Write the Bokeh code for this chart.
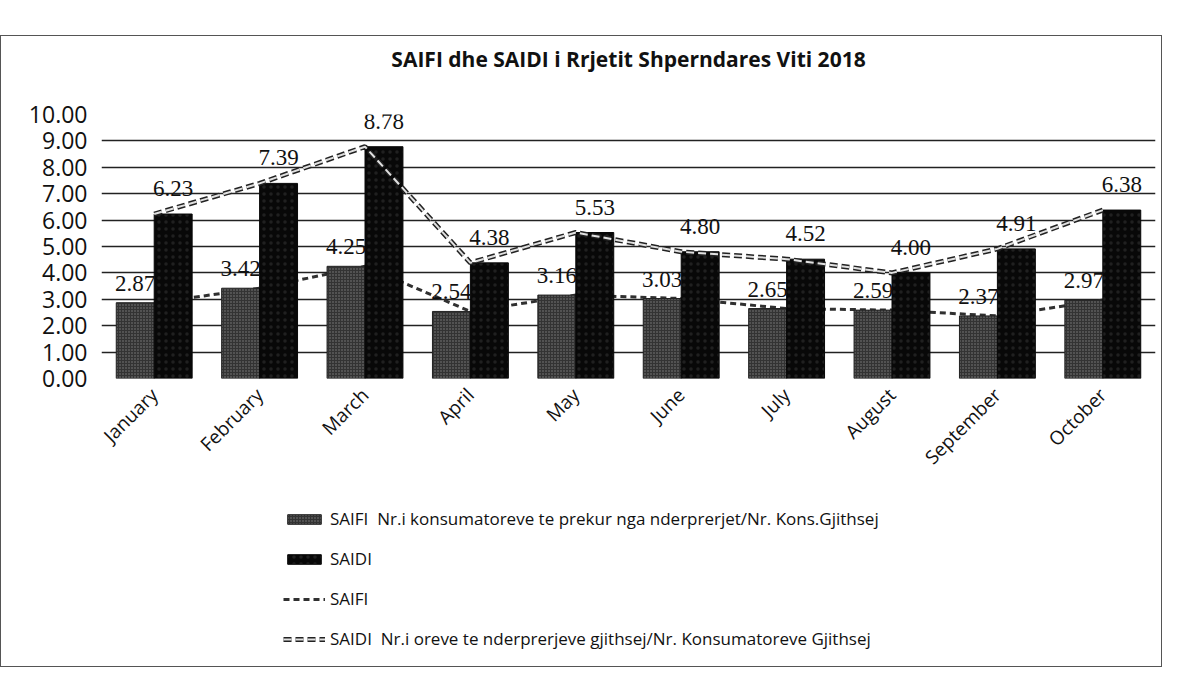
import math
from bokeh.plotting import figure
from bokeh.models import ColumnDataSource, Legend, LegendItem, Spacer, FixedTicker, CustomJSTickFormatter, Title
from bokeh.layouts import column
from bokeh.transform import dodge
from bokeh.core.properties import value
from bokeh.embed import file_html
from bokeh.resources import INLINE

months = ["January", "February", "March", "April", "May", "June", "July",
          "August", "September", "October"]
saifi = [2.87, 3.42, 4.25, 2.54, 3.16, 3.03, 2.65, 2.59, 2.37, 2.97]
saidi = [6.23, 7.39, 8.78, 4.38, 5.53, 4.80, 4.52, 4.00, 4.91, 6.38]
y_ticks = [0, 1, 2, 3, 4, 5, 6, 7, 8, 9, 10]
title_text = "SAIFI dhe SAIDI i Rrjetit Shperndares Viti 2018"
legend_labels = [
    "SAIFI  Nr.i konsumatoreve te prekur nga nderprerjet/Nr. Kons.Gjithsej",
    "SAIDI",
    "SAIFI",
    "SAIDI  Nr.i oreve te nderprerjeve gjithsej/Nr. Konsumatoreve Gjithsej",
]

src = ColumnDataSource(dict(
    month=months, saifi=saifi, saidi=saidi,
    saifi_lbl=["%.2f" % v for v in saifi],
    saidi_lbl=["%.2f" % v for v in saidi],
))

BORDER = "1px solid #555"

p = figure(x_range=months, y_range=(0, 10), width=1162, height=450,
           output_backend="svg", toolbar_location=None,
           min_border_left=100, min_border_right=8,
           min_border_top=78, min_border_bottom=108)
p.styles = {"border-top": BORDER, "border-left": BORDER, "border-right": BORDER}

# real title (outermost) + blank spacer title nearest the frame
p.title.text = title_text
p.title.align = "center"
p.title.text_font = "Open Sans"
p.title.text_font_size = "21px"
p.title.text_font_style = "bold"
p.title.text_color = "#111111"
p.add_layout(Title(text=" ", text_font_size="22px"), "above")

SAIFI_BAR = dict(fill_color="#333333", line_color="#222222",
                 hatch_pattern="dot", hatch_color="#b0b0b0", hatch_scale=3,
                 hatch_weight=1, hatch_alpha=0.6)
SAIDI_BAR = dict(fill_color="#080808", line_color="#080808",
                 hatch_pattern="dot", hatch_color="#555555", hatch_scale=7,
                 hatch_weight=0.5, hatch_alpha=0.3)
SAIFI_LINE = dict(line_color="#303030", line_width=3, line_dash="6 4")
SAIDI_LINE_A = dict(line_color="#222222", line_width=5, line_dash="8 4")
SAIDI_LINE_B = dict(line_color="#e0e0e0", line_width=2, line_dash="8 4")

# SAIFI line (behind bars)
p.line("month", "saifi", source=src, **SAIFI_LINE)
p.vbar(x=dodge("month", -0.18, range=p.x_range), top="saifi", width=0.36,
       source=src, **SAIFI_BAR)
p.vbar(x=dodge("month", 0.18, range=p.x_range), top="saidi", width=0.36,
       source=src, **SAIDI_BAR)
# SAIDI line (in front)
p.line("month", "saidi", source=src, **SAIDI_LINE_A)
p.line("month", "saidi", source=src, **SAIDI_LINE_B)

p.text(x=dodge("month", -0.18, range=p.x_range), y="saifi", text="saifi_lbl",
       source=src, text_align="center", text_baseline="bottom", y_offset=-12,
       text_font=value("Liberation Serif"), text_font_size="23px",
       text_color="#111111")
p.text(x=dodge("month", 0.18, range=p.x_range), y="saidi", text="saidi_lbl",
       source=src, text_align="center", text_baseline="bottom", y_offset=-18,
       text_font=value("Liberation Serif"), text_font_size="23px",
       text_color="#111111")

p.yaxis.ticker = FixedTicker(ticks=y_ticks)
p.yaxis.formatter = CustomJSTickFormatter(code="return tick.toFixed(2);")
p.yaxis.axis_line_color = None
p.yaxis.major_tick_line_color = None
p.yaxis.minor_tick_line_color = None
p.yaxis.major_label_text_font = "Open Sans"
p.yaxis.major_label_text_font_size = "23px"
p.yaxis.major_label_text_color = "#111111"
p.yaxis.major_label_standoff = 8

p.xaxis.axis_line_color = None
p.xaxis.major_tick_line_color = None
p.xaxis.major_label_orientation = math.pi / 4
p.xaxis.major_label_standoff = 7
p.xaxis.major_label_text_font = "Open Sans"
p.xaxis.major_label_text_font_size = "19px"
p.xaxis.major_label_text_color = "#111111"

p.xgrid.grid_line_color = None
p.ygrid.grid_line_color = "#222222"
p.ygrid.grid_line_width = 1.3
p.ygrid.ticker = FixedTicker(ticks=y_ticks)
p.outline_line_color = None
p.x_range.range_padding = 0

# Legend panel (separate figure below the chart, same styles; the legend's
# glyphs come from hidden renderers placed outside the visible range)
lf = figure(width=1162, height=182, output_backend="svg", toolbar_location=None,
            x_axis_type=None, y_axis_type=None, x_range=(0, 1), y_range=(0, 1),
            min_border=0)
lf.styles = {"border-bottom": BORDER, "border-left": BORDER, "border-right": BORDER}
lf.grid.visible = False
lf.outline_line_color = None
hidden = ColumnDataSource(dict(x=[-5, -4], y=[-5, -5], top=[-4, -4]))
r1 = lf.vbar(x="x", top="top", width=0.1, source=hidden, **SAIFI_BAR)
r2 = lf.vbar(x="x", top="top", width=0.1, source=hidden, **SAIDI_BAR)
r3 = lf.line("x", "y", source=hidden, **SAIFI_LINE)
r4a = lf.line("x", "y", source=hidden, **SAIDI_LINE_A)
r4b = lf.line("x", "y", source=hidden, **SAIDI_LINE_B)

legend = Legend(items=[
    LegendItem(label=legend_labels[0], renderers=[r1]),
    LegendItem(label=legend_labels[1], renderers=[r2]),
    LegendItem(label=legend_labels[2], renderers=[r3]),
    LegendItem(label=legend_labels[3], renderers=[r4a, r4b]),
], location=(182, 17), orientation="vertical")
legend.border_line_color = None
legend.background_fill_alpha = 0
legend.label_text_font = "Open Sans"
legend.label_text_font_size = "17px"
legend.label_text_color = "#111111"
legend.glyph_width = 42
legend.glyph_height = 12
legend.label_height = 20
legend.spacing = 17
legend.padding = 0
legend.margin = 0
lf.add_layout(legend, "center")

layout = column(Spacer(height=35, width=10), p, lf, spacing=0)
open("out.html", "w").write(file_html(layout, INLINE))
